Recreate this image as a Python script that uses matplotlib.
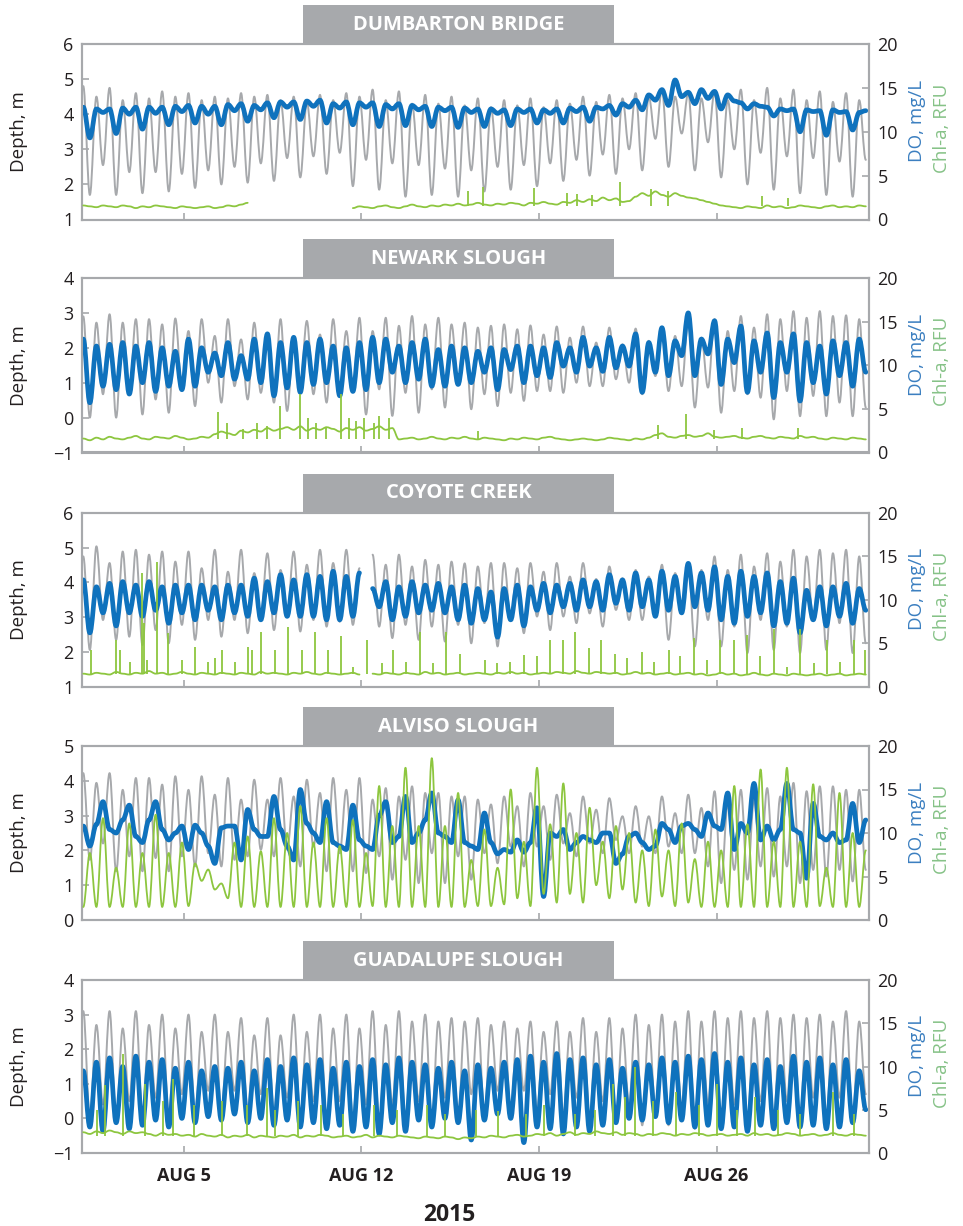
import numpy as np
import matplotlib
matplotlib.use("Agg")
import matplotlib.pyplot as plt
import matplotlib.dates as mdates
from matplotlib.patches import Rectangle, PathPatch
from matplotlib.path import Path

plt.rcParams['font.family'] = ['Open Sans', 'DejaVu Sans']

GRAY = '#a7a9ac'
BLUE = '#0f72bd'
GREEN = '#8dc63f'
TEXT = '#231f20'
nan = np.nan

# sample times: one value per tidal high/low (about every 6.2 h)
times = np.datetime64('2015-08-01T01:12') + np.arange(120) * np.timedelta64(373, 'm')
start = np.datetime64('2015-08-01')

stations = ['DUMBARTON BRIDGE', 'NEWARK SLOUGH', 'COYOTE CREEK',
            'ALVISO SLOUGH', 'GUADALUPE SLOUGH']
tick_dates = ['2015-08-05', '2015-08-12', '2015-08-19', '2015-08-26']
tick_labels = ['AUG 5', 'AUG 12', 'AUG 19', 'AUG 26']

# ---------------- Dumbarton Bridge ----------------
hi1 = [4.8, 4.5, 4.75, 4.4, 4.6, 4.45, 4.65, 4.5, 4.6, 4.4,
       4.5, 4.45, 4.6, 4.5, 4.55, 4.4, 4.5, 4.35, 4.55, 4.4,
       4.6, 4.5, 4.7, 4.4, 4.65, 4.3, 4.55, 4.3, 4.5, 4.25,
       4.45, 4.2, 4.4, 4.25, 4.45, 4.2, 4.4, 4.3, 4.5, 4.35,
       4.55, 4.45, 4.6, 4.5, 4.7, 4.5, 4.6, 4.45, 4.65, 4.4,
       4.7, 4.4, 4.75, 4.45, 4.7, 4.4, 4.65, 4.35, 4.6, 4.4]
lo1 = [1.7, 2.55, 1.7, 2.35, 1.75, 2.35, 1.8, 2.3, 1.9, 2.4,
       2.0, 2.5, 2.05, 2.6, 2.1, 2.75, 2.2, 2.8, 2.3, 2.9,
       1.95, 2.7, 1.85, 2.6, 1.65, 2.55, 1.7, 2.45, 1.65, 2.4,
       1.8, 2.5, 1.85, 2.55, 1.95, 2.6, 2.1, 2.7, 2.25, 2.85,
       2.3, 3.0, 2.4, 3.3, 2.5, 3.45, 2.4, 3.2, 2.2, 3.0,
       2.0, 2.9, 1.85, 2.8, 1.75, 2.75, 1.7, 2.65, 1.65, 2.7]
do1 = [12.8, 9.3, 12.6, 12.2, 12.6, 9.8, 12.7, 12.0, 12.8, 10.3, 12.8, 12.1,
       12.8, 10.8, 12.9, 12.3, 13.0, 11.0, 12.9, 12.0, 12.9, 10.8, 13.1, 12.4,
       13.2, 11.2, 13.0, 12.5, 13.3, 11.6, 13.4, 12.8, 13.4, 11.4, 13.5, 12.9,
       13.6, 11.0, 13.2, 12.7, 13.4, 10.8, 13.3, 12.8, 13.3, 10.6, 13.1, 12.6,
       13.2, 10.7, 13.0, 12.5, 12.9, 10.6, 12.8, 12.4, 12.8, 10.5, 12.7, 12.2,
       12.6, 10.6, 12.6, 12.1, 12.5, 10.7, 12.6, 12.2, 12.6, 11.0, 12.5, 12.1,
       12.6, 11.0, 12.7, 12.3, 12.8, 11.2, 12.8, 12.6, 13.0, 11.9, 13.2, 12.8,
       13.6, 12.5, 14.2, 13.6, 14.8, 13.0, 15.9, 14.0, 14.5, 13.2, 14.8, 13.8,
       14.6, 12.6, 14.2, 13.5, 13.3, 12.6, 13.2, 12.9, 12.8, 11.8, 12.6, 12.4,
       12.6, 10.0, 12.5, 12.3, 12.4, 9.6, 12.5, 12.2, 12.3, 10.2, 12.2, 12.4]
chl1 = ([1.6, 1.5, 1.4, 1.6, 1.5, 1.4, 1.6, 1.5, 1.3, 1.5,
         1.4, 1.6, 1.5, 1.4, 1.3, 1.5, 1.4, 1.3, 1.4, 1.5,
         1.3, 1.4, 1.6, 1.5, 1.7, 1.9] + [nan] * 15 +
        [1.3, 1.5, 1.4, 1.3, 1.5, 1.6, 1.4, 1.3, 1.5, 1.7,
         1.5, 1.4, 1.6, 1.5, 1.7, 1.6, 1.8, 1.6, 1.7, 1.9,
         1.7, 1.6, 1.8, 1.7, 1.9, 1.8, 1.6, 1.9, 1.8, 2.0,
         1.8, 1.7, 2.0, 1.9, 2.2, 2.0, 2.3, 2.1, 2.5, 2.2,
         2.4, 2.0, 2.1, 2.6, 3.0, 2.7, 3.2, 2.8, 2.6, 3.0,
         2.7, 2.5, 2.4, 2.2, 2.0, 1.8, 1.6, 1.5, 1.4, 1.3,
         1.5, 1.4, 1.3, 1.6, 1.4, 1.5, 1.3, 1.4, 1.6, 1.5,
         1.4, 1.3, 1.5, 1.6, 1.4, 1.5, 1.4, 1.6, 1.5])
spk_day1 = [15.2, 15.8, 17.8, 19.1, 19.5, 20.1, 21.2, 22.4, 23.1, 26.8, 27.8]
spk_top1 = [3.3, 3.7, 3.6, 3.0, 2.9, 2.8, 4.3, 3.5, 3.3, 2.7, 2.5]

# ---------------- Newark Slough ----------------
hi2 = [2.9, 2.72, 2.96, 2.72, 2.82, 2.82, 2.67, 2.84, 2.48, 2.82,
       2.34, 2.82, 2.24, 2.72, 2.2, 2.82, 2.29, 2.77, 2.38, 2.82,
       2.48, 2.86, 2.48, 2.86, 2.63, 2.91, 2.67, 2.86, 2.67, 2.72,
       2.58, 2.63, 2.67, 2.53, 2.64, 2.38, 2.61, 2.29, 2.61, 2.15,
       2.58, 2.1, 2.55, 2.2, 2.53, 2.34, 2.82, 2.29, 2.82, 2.48,
       2.91, 2.58, 2.96, 2.82, 3.05, 2.86, 3.05, 2.91, 2.93, 2.82]
lo2 = [0.0, 0.67, 0.0, 0.67, 0.09, 0.52, 0.14, 0.81, 0.33, 1.0,
       0.43, 0.9, 0.52, 0.71, 0.43, 0.19, 0.9, 0.67, 0.43, 0.76,
       0.76, 0.09, 0.81, 0.05, 0.71, 0.14, 0.81, 0.29, 0.95, 0.24,
       0.67, 0.33, 0.71, 0.48, 0.76, 0.76, 0.71, 1.0, 0.9, 0.9,
       1.1, 1.0, 0.67, 1.19, 0.76, 0.9, 0.29, 0.86, 0.14, 0.76,
       0.67, 0.57, -0.05, 0.76, 0.04, 0.62, 0.04, 0.43, 0.04, 0.29]
do2 = [13.0, 5.7, 12.2, 7.6, 12.4, 7.2, 12.6, 6.7, 12.2, 8.0,
       12.6, 7.0, 12.0, 7.6, 11.6, 7.2, 13.0, 7.6, 12.0, 9.2,
       11.4, 8.8, 12.6, 8.4, 11.1, 8.4, 13.0, 8.0, 13.6, 6.5,
       12.6, 7.4, 13.2, 6.9, 12.6, 7.8, 13.0, 8.0, 12.2, 6.5,
       12.0, 7.0, 12.6, 7.2, 13.2, 8.0, 13.0, 9.2, 12.2, 8.0,
       12.6, 8.4, 13.0, 7.6, 11.8, 7.6, 12.2, 7.8, 12.0, 8.0,
       11.6, 9.2, 12.0, 7.2, 11.8, 9.5, 12.2, 8.0, 12.2, 8.8,
       12.0, 8.6, 12.6, 9.9, 12.0, 9.2, 13.2, 9.9, 12.0, 9.3,
       13.2, 9.7, 12.2, 9.9, 13.6, 6.9, 12.6, 9.2, 14.3, 8.8,
       12.8, 11.1, 16.0, 8.8, 13.0, 11.3, 15.1, 7.8, 13.0, 10.3,
       14.5, 6.9, 12.8, 9.2, 13.7, 6.3, 12.6, 9.2, 13.6, 5.9,
       12.6, 8.0, 12.2, 6.7, 12.8, 8.8, 12.6, 7.6, 13.0, 9.2]
chl2 = [1.6, 1.4, 1.7, 1.5, 1.8, 1.6, 1.5, 1.7, 1.9, 1.6,
        1.5, 1.8, 1.7, 1.6, 1.9, 1.7, 1.5, 1.6, 1.8, 1.7,
        2.1, 2.4, 2.2, 2.0, 2.5, 2.3, 2.6, 2.4, 2.8, 2.5,
        2.7, 2.9, 2.6, 3.0, 2.5, 2.8, 2.6, 2.9, 2.7, 2.4,
        2.8, 2.6, 2.9, 2.5, 2.7, 3.0, 2.6, 2.8,
        1.5, 1.6, 1.7, 1.5, 1.6, 1.8, 1.6, 1.5, 1.7, 1.6,
        1.8, 1.6, 1.5, 1.7, 1.6, 1.5, 1.4, 1.6, 1.5, 1.7,
        1.6, 1.5, 1.7, 1.8, 1.6, 1.5, 1.4, 1.5, 1.6, 1.5,
        1.4, 1.5, 1.7, 1.6, 1.5, 1.4, 1.6, 1.5, 1.7, 2.0,
        2.2, 1.8, 1.7, 1.9, 2.0, 1.8, 1.9, 2.2, 1.8, 1.7,
        1.8, 1.9, 1.7, 1.6, 1.8, 1.9, 1.7, 1.6, 1.8, 1.7,
        1.6, 1.9, 1.7, 1.8, 1.6, 1.5, 1.7, 1.6, 1.5, 1.7, 1.6, 1.5]
spk_day2 = [5.37, 5.7, 6.35, 6.9, 7.3, 7.8, 8.6, 8.9, 9.2, 9.6,
            10.2, 10.5, 10.8, 11.1, 11.5, 11.7, 12.1, 15.6, 22.7, 23.8,
            24.9, 26.0, 28.2]
spk_top2 = [4.6, 3.4, 2.7, 3.4, 3.0, 5.3, 6.7, 4.0, 3.4, 2.8,
            6.7, 4.0, 3.6, 4.0, 3.4, 4.2, 4.0, 2.5, 3.2, 4.4,
            2.6, 2.8, 2.8]

# ---------------- Coyote Creek ----------------
hi3 = [4.75, 5.04, 4.56, 4.89, 4.94, 4.8, 4.89, 4.6, 4.89, 4.41,
       4.94, 4.31, 4.94, 4.27, 4.84, 4.36, 4.89, 4.51, 4.94, 4.56,
       4.94, 4.41, 4.8, 4.51, 4.8, 4.46, 4.65, 4.51, 4.6, 4.55,
       4.46, 4.56, 4.56, 4.41, 4.56, 4.31, 4.56, 4.17, 4.56, 4.1,
       4.46, 4.12, 4.36, 4.17, 4.51, 4.27, 4.56, 4.36, 4.75, 4.36,
       4.8, 4.46, 4.84, 4.6, 4.94, 4.75, 4.94, 4.84, 4.94, 4.75]
lo3 = [2.06, 2.92, 2.35, 2.44, 2.2, 2.63, 2.25, 2.78, 2.35, 2.92,
       2.44, 2.92, 2.54, 3.02, 2.63, 3.02, 2.59, 2.92, 2.73, 2.87,
       2.78, nan, 2.73, 2.4, 2.78, 2.35, 2.73, 2.3, 2.78, 2.25,
       2.83, 2.16, 2.92, 2.54, 3.02, 2.63, 3.02, 2.83, 3.11, 2.73,
       3.21, 2.92, 2.92, 3.02, 2.35, 3.21, 2.16, 2.92, 2.16, 2.73,
       1.97, 2.92, 2.06, 2.73, 1.97, 2.92, 2.06, 2.83, 1.97, 2.25]
do3 = [12.3, 6.2, 11.5, 8.5, 11.9, 7.0, 12.1, 8.5, 11.7, 8.1,
       12.1, 8.8, 11.5, 7.3, 11.7, 8.5, 11.7, 7.7, 11.7, 8.8,
       11.5, 7.7, 11.7, 8.5, 11.7, 8.1, 12.5, 7.7, 12.1, 8.5,
       12.9, 8.1, 12.3, 8.1, 12.9, 8.1, 12.7, 7.7, 13.3, 7.7,
       12.7, 8.1, 13.1, nan, 11.3, 9.2, 12.1, 7.7, 11.5, 8.1,
       12.1, 8.5, 11.7, 8.8, 11.9, 8.5, 11.5, 7.7, 11.7, 7.3,
       11.3, 7.7, 10.9, 5.7, 11.3, 7.7, 11.7, 7.0, 11.5, 8.8,
       11.9, 8.5, 11.7, 9.2, 11.9, 8.8, 12.3, 9.2, 12.1, 8.8,
       12.9, 9.6, 12.3, 8.8, 13.1, 9.2, 12.3, 8.1, 13.3, 8.8,
       12.7, 8.5, 14.2, 9.2, 13.1, 8.8, 13.8, 7.7, 12.7, 7.3,
       13.3, 8.1, 12.7, 8.5, 13.1, 7.0, 12.1, 7.3, 12.5, 6.2,
       11.1, 7.7, 11.5, 7.0, 11.5, 8.1, 11.9, 7.3, 11.3, 8.8]
chl3 = [1.5, 1.4, 1.6, 1.5, 1.4, 1.7, 1.5, 1.4, 1.6, 1.5,
        1.8, 1.5, 1.6, 1.4, 1.5, 1.7, 1.5, 1.4, 1.6, 1.5,
        1.4, 1.6, 1.5, 1.4, 1.6, 1.5, 1.4, 1.7, 1.5, 1.6,
        1.5, 1.4, 1.6, 1.5, 1.7, 1.5, 1.4, 1.6, 1.5, 1.4,
        1.5, 1.6, 1.4, nan, 1.5, 1.4, 1.6, 1.5, 1.4, 1.6,
        1.5, 1.4, 1.7, 1.5, 1.6, 1.4, 1.5, 1.6, 1.4, 1.5,
        1.6, 1.5, 1.4, 1.6, 1.5, 1.7, 1.5, 1.6, 1.4, 1.5,
        1.6, 1.5, 1.7, 1.6, 1.5, 1.8, 1.6, 1.5, 1.7, 1.6,
        1.5, 1.6, 1.4, 1.5, 1.7, 1.5, 1.6, 1.4, 1.5, 1.6,
        1.4, 1.5, 1.6, 1.4, 1.5, 1.3, 1.4, 1.6, 1.4, 1.5,
        1.3, 1.4, 1.6, 1.4, 1.3, 1.5, 1.4, 1.3, 1.5, 1.4,
        1.3, 1.4, 1.5, 1.3, 1.4, 1.5, 1.3, 1.4, 1.5, 1.4]
spk_day3 = [0.34, 1.34, 1.5, 1.89, 2.35, 2.44, 2.55, 2.94, 3.4, 3.92,
            4.45, 4.97, 5.24, 5.5, 6.02, 6.55, 6.68, 7.07, 7.6, 8.12,
            8.65, 9.17, 9.7, 10.22, 10.68, 11.23, 11.8, 12.26, 12.78, 13.31,
            13.83, 14.33, 14.88, 15.89, 16.35, 16.87, 17.4, 17.93, 18.43, 18.95,
            19.43, 19.96, 20.45, 21.01, 21.47, 22.06, 22.52, 23.11, 23.57, 24.09,
            24.62, 25.15, 25.67, 26.2, 26.72, 27.24, 27.77, 28.29, 28.82, 29.34,
            29.87, 30.39, 30.85]
spk_top3 = [4.2, 5.4, 4.2, 2.9, 13.1, 7.3, 3.1, 14.4, 6.2, 3.1,
            4.6, 2.9, 3.3, 4.2, 2.9, 4.6, 4.2, 6.3, 4.2, 6.9,
            4.2, 6.3, 4.2, 5.8, 2.3, 5.4, 2.7, 4.2, 2.9, 6.3,
            2.7, 6.3, 3.8, 3.1, 2.7, 2.9, 3.7, 3.5, 5.4, 5.4,
            6.3, 4.4, 5.4, 3.8, 3.3, 4.0, 2.9, 4.2, 3.5, 5.6,
            3.1, 5.4, 5.4, 6.0, 3.5, 6.7, 2.3, 6.7, 2.7, 5.4,
            2.9, 5.4, 4.2]

# ---------------- Alviso Slough ----------------
hi4 = [4.22, 3.94, 4.22, 3.74, 4.08, 4.08, 3.89, 4.13, 3.74, 4.13,
       3.6, 4.08, 3.46, 4.03, 3.46, 4.08, 3.55, 4.03, 3.65, 4.08,
       3.74, 4.08, 3.46, 3.79, 3.55, 3.84, 3.65, 3.65, 3.55, 3.55,
       3.46, 3.32, 3.55, 3.27, 3.65, 3.27, 3.6, 3.07, 3.55, 3.17,
       3.5, 2.98, 3.27, 2.98, 3.55, 3.07, 3.6, 3.22, 3.7, 3.32,
       3.74, 3.46, 3.79, 3.55, 3.94, 3.7, 3.84, 3.84, 3.74, 3.74]
lo4 = [1.73, 2.2, 1.4, 1.83, 1.4, 1.78, 1.4, 1.83, 1.54, 1.92,
       1.54, 1.73, 1.83, 2.02, 1.83, 2.02, 1.54, 2.11, 1.4, 1.92,
       1.4, 1.35, 1.83, 1.16, 1.73, 1.06, 1.92, 1.06, 1.83, 1.16,
       1.92, 1.63, 2.11, 1.54, 2.11, 1.73, 2.2, 1.83, 2.2, 1.92,
       2.3, 1.92, 2.11, 1.92, 2.11, 1.92, 1.92, 1.54, 1.06, 1.44,
       1.16, 1.54, 1.25, 1.54, 1.06, 1.44, 1.25, 1.44, 1.11, 1.44]
do4 = [10.8, 8.5, 11.0, 13.6, 10.4, 10.0, 11.5, 13.2, 9.6, 8.9,
       11.5, 13.6, 10.4, 9.2, 10.0, 10.8, 8.1, 10.9, 10.0, 8.5,
       6.5, 10.6, 10.8, 10.8, 6.9, 12.7, 10.4, 9.6, 9.6, 14.2,
       10.4, 8.5, 6.9, 15.0, 11.1, 10.0, 8.9, 13.6, 8.9, 8.5,
       8.1, 13.2, 9.2, 8.5, 8.1, 12.0, 13.6, 8.9, 9.6, 14.2,
       8.9, 10.0, 11.5, 14.6, 10.0, 9.6, 8.9, 13.8, 8.9, 8.5,
       8.1, 12.3, 8.9, 7.6, 8.1, 7.8, 9.2, 7.8, 8.9, 12.9,
       2.7, 10.0, 9.6, 10.4, 8.1, 8.9, 9.6, 9.2, 8.9, 10.0,
       10.0, 6.5, 7.6, 9.6, 10.0, 8.9, 8.1, 8.5, 11.1, 10.4,
       8.9, 10.8, 11.1, 10.4, 9.6, 12.3, 10.8, 10.4, 14.6, 8.1,
       11.1, 10.0, 15.7, 9.2, 10.8, 9.2, 10.4, 15.7, 10.4, 10.0,
       4.8, 13.4, 9.6, 9.2, 10.0, 8.9, 9.2, 13.4, 8.9, 11.5]
chl4 = [1.5, 7.7, 1.5, 11.7, 1.5, 6.0, 1.5, 11.1, 1.5, 7.7,
        1.5, 12.1, 1.5, 7.7, 1.5, 8.9, 1.6, 6.5, 4.5, 5.8,
        3.5, 4.2, 2.5, 8.9, 1.5, 9.6, 1.5, 7.9, 1.5, 11.7,
        1.5, 10.0, 1.5, 13.1, 1.5, 8.9, 1.5, 11.7, 1.5, 8.5,
        1.5, 11.5, 1.5, 7.7, 1.6, 15.4, 1.5, 10.8, 1.5, 17.5,
        1.5, 10.8, 1.5, 18.6, 1.5, 10.8, 1.5, 14.6, 1.5, 6.9,
        1.6, 10.4, 1.6, 6.0, 1.8, 15.0, 2.5, 9.0, 1.6, 17.5,
        3.0, 11.0, 2.0, 15.7, 3.0, 10.0, 2.0, 12.9, 4.0, 9.0,
        2.5, 10.8, 3.5, 10.0, 2.0, 8.0, 1.6, 10.4, 2.7, 8.0,
        1.6, 11.1, 2.0, 7.0, 1.5, 9.0, 1.5, 8.0, 1.5, 15.4,
        1.5, 11.0, 1.5, 17.3, 1.5, 9.0, 1.5, 17.5, 1.5, 9.0,
        1.5, 15.6, 1.6, 6.0, 1.5, 14.6, 1.5, 10.0, 1.5, 8.0]

# ---------------- Guadalupe Slough ----------------
hi5 = [3.1, 2.7, 3.1, 2.6, 3.1, 2.7, 3.0, 2.6, 3.0, 2.5,
       3.0, 2.5, 2.9, 2.4, 2.9, 2.4, 3.0, 2.5, 3.0, 2.6,
       3.0, 2.6, 3.1, 2.7, 3.1, 2.8, 3.0, 2.8, 2.9, 2.8,
       2.9, 2.7, 2.8, 2.6, 2.8, 2.5, 2.8, 2.5, 2.9, 2.5,
       2.9, 2.6, 3.0, 2.7, 3.0, 2.8, 3.1, 2.8, 3.1, 2.9,
       3.1, 2.9, 3.1, 2.9, 3.0, 2.9, 3.0, 2.8, 3.1, 2.8]
lo5 = [0.0, 0.4, -0.1, 0.5, 0.0, 0.6, 0.1, 0.7, 0.1, 0.8,
       0.2, 0.8, 0.2, 0.7, 0.1, 0.6, 0.0, 0.5, -0.1, 0.5,
       -0.1, 0.4, -0.2, 0.4, -0.2, 0.5, -0.1, 0.6, 0.0, 0.7,
       0.1, 0.8, 0.2, 0.8, 0.2, 0.7, 0.1, 0.6, 0.0, 0.5,
       -0.1, 0.4, -0.2, 0.3, -0.2, 0.3, -0.3, 0.4, -0.2, 0.4,
       -0.2, 0.5, -0.1, 0.5, -0.1, 0.6, 0.0, 0.6, 0.0, 0.7]
do5 = [9.5, 3.0, 10.5, 2.5, 11.0, 3.5, 10.0, 2.8, 11.2, 3.2,
       10.5, 3.8, 10.8, 3.0, 9.8, 4.0, 10.5, 3.5, 9.5, 4.2,
       10.0, 3.8, 9.8, 4.5, 10.5, 3.5, 9.5, 4.0, 10.8, 3.2,
       10.0, 3.8, 11.0, 3.0, 10.2, 3.5, 10.8, 2.8, 9.8, 3.2,
       10.5, 2.5, 10.0, 3.0, 10.8, 2.2, 10.2, 3.5, 11.0, 2.5,
       10.5, 3.8, 10.2, 3.0, 9.8, 4.0, 10.5, 3.5, 9.5, 1.5,
       10.2, 3.8, 9.8, 4.5, 10.5, 4.0, 10.8, 1.2, 11.2, 3.0,
       10.5, 2.8, 11.5, 2.2, 10.8, 3.0, 11.0, 2.5, 10.2, 3.2,
       10.8, 3.5, 9.8, 4.0, 10.5, 3.8, 10.2, 4.2, 11.0, 3.5,
       10.5, 3.8, 11.2, 3.0, 10.8, 3.2, 11.5, 2.8, 10.5, 3.0,
       11.0, 2.5, 10.2, 3.2, 10.8, 2.8, 10.0, 3.5, 11.2, 3.0,
       10.5, 3.2, 11.0, 2.8, 10.2, 3.0, 10.8, 3.5, 9.5, 5.0]
chl5 = [2.4, 2.2, 2.5, 2.3, 2.6, 2.4, 2.2, 2.5, 2.3, 2.4,
        2.2, 2.0, 2.3, 2.1, 2.2, 2.0, 2.1, 1.9, 2.2, 2.0,
        1.9, 2.1, 1.8, 2.0, 1.9, 2.1, 1.8, 2.0, 1.9, 1.8,
        2.0, 1.9, 2.1, 1.8, 2.0, 1.9, 2.1, 2.0, 1.8, 1.9,
        2.0, 1.8, 1.9, 2.1, 1.8, 2.0, 1.9, 1.8, 2.0, 1.9,
        1.8, 1.7, 1.9, 1.8, 1.7, 1.9, 1.8, 1.6, 1.8, 1.7,
        1.9, 1.8, 2.0, 1.9, 1.8, 2.0, 2.1, 1.9, 2.0, 2.2,
        2.1, 2.3, 2.0, 2.2, 2.4, 2.1, 2.3, 2.2, 2.5, 2.3,
        2.2, 2.4, 2.1, 2.3, 2.2, 2.0, 2.2, 2.1, 2.3, 2.2,
        2.0, 2.2, 2.1, 2.3, 2.2, 2.0, 2.1, 2.2, 2.0, 2.1,
        2.2, 2.0, 2.3, 2.1, 2.2, 2.0, 2.1, 2.3, 2.2, 2.0,
        2.1, 2.2, 2.0, 2.1, 2.3, 2.1, 2.0, 2.2, 2.1, 2.0]
spk_day5 = [0.6, 0.9, 1.6, 2.5, 3.2, 3.6, 4.4, 5.5, 6.5, 7.3,
            7.6, 8.5, 9.4, 10.3, 11.5, 12.4, 13.6, 14.3, 15.5, 16.4,
            17.5, 18.2, 19.4, 20.2, 20.9, 21.4, 21.8, 22.5, 23.4, 24.3,
            25.0, 25.8, 26.5, 27.4, 28.3, 29.6, 30.4]
spk_top5 = [5.0, 7.9, 11.5, 8.0, 6.0, 8.5, 5.5, 6.0, 5.5, 7.5,
            5.0, 6.0, 5.5, 4.5, 5.5, 5.0, 5.5, 4.5, 5.0, 4.8,
            4.5, 5.5, 4.5, 5.0, 8.0, 6.5, 10.0, 6.0, 7.0, 5.5,
            8.0, 5.0, 6.5, 5.0, 4.5, 7.0, 4.5]

panels = [
    (hi1, lo1, do1, chl1, spk_day1, spk_top1, 1.5, (1, 6)),
    (hi2, lo2, do2, chl2, spk_day2, spk_top2, 1.6, (-1, 4)),
    (hi3, lo3, do3, chl3, spk_day3, spk_top3, 1.5, (1, 6)),
    (hi4, lo4, do4, chl4, [], [], 1.5, (0, 5)),
    (hi5, lo5, do5, chl5, spk_day5, spk_top5, 2.0, (-1, 4)),
]
# (top, bottom) of each plot area in pixels
panel_px = [(44, 219.5), (278, 452.5), (513, 686.7), (746, 920), (980, 1153)]


def smooth_line(ax, xs, ys, **kw):
    """Draw the samples joined by flat-tangent Bezier curves (tide-like)."""
    xs = np.asarray(xs, float)
    ys = np.asarray(ys, float)
    idx = np.flatnonzero(~np.isnan(ys))
    runs = np.split(idx, np.flatnonzero(np.diff(idx) > 1) + 1)
    for r in runs:
        if len(r) < 2:
            continue
        verts = [(xs[r[0]], ys[r[0]])]
        codes = [Path.MOVETO]
        for a, b in zip(r[:-1], r[1:]):
            d = xs[b] - xs[a]
            verts += [(xs[a] + 0.36 * d, ys[a]), (xs[b] - 0.36 * d, ys[b]),
                      (xs[b], ys[b])]
            codes += [Path.CURVE4] * 3
        ax.add_patch(PathPatch(Path(verts, codes), facecolor='none',
                               capstyle='round', joinstyle='round', **kw))


W, H = 963, 1226
fig = plt.figure(figsize=(W / 100, H / 100), dpi=100)
x = mdates.date2num(times)
x0 = mdates.date2num(start)

for i, (hi, lo, do, chl, sd, st, base, ylim) in enumerate(panels):
    top, bot = panel_px[i]
    ax = fig.add_axes([82 / W, 1 - bot / H, 787 / W, (bot - top) / H])

    depth = np.empty(len(hi) + len(lo))
    depth[0::2] = hi
    depth[1::2] = lo
    smooth_line(ax, x, depth, edgecolor=GRAY, lw=1.4, zorder=1)
    ax.set_ylim(*ylim)
    ax.set_yticks(np.arange(ylim[0], ylim[1] + 1))
    ax.set_yticklabels([str(v).replace('-', '\u2212') for v in range(ylim[0], ylim[1] + 1)])
    ax.set_xlim(x0, x0 + 31)
    ax.set_xticks(mdates.date2num(np.array(tick_dates, dtype='datetime64[D]')))
    if i == len(panels) - 1:
        ax.set_xticklabels(tick_labels, fontweight='bold', fontsize=14)
    else:
        ax.set_xticklabels([])
    ax.set_ylabel('Depth, m', fontsize=13.5, color=TEXT)
    ax.yaxis.set_label_coords(-(82 - 28) / 787, 0.5)

    ax2 = ax.twinx()
    smooth_line(ax2, x, do, edgecolor=BLUE, lw=3.4, zorder=2)
    smooth_line(ax2, x, chl, edgecolor=GREEN, lw=1.3, zorder=3)
    if len(sd):
        sx = x0 + np.array(sd)
        ax2.vlines(sx, base, st, color=GREEN, lw=1.3, zorder=3)
    ax2.set_ylim(0, 20)
    ax2.set_yticks([0, 5, 10, 15, 20])
    ax2.set_xlim(x0, x0 + 31)
    ax2.text((917 - 82) / 787, 0.56, 'DO, mg/L', rotation=90, color='#3b7fc0',
             fontsize=13.5, ha='center', va='center', transform=ax2.transAxes)
    ax2.text((942 - 82) / 787, 0.52, 'Chl-a, RFU', rotation=90, color='#86c287',
             fontsize=13.5, ha='center', va='center', transform=ax2.transAxes)

    for a in (ax, ax2):
        for s in a.spines.values():
            s.set_color(GRAY)
            s.set_linewidth(1.5)
        a.tick_params(axis='both', direction='in', length=5, width=1.2,
                      color=GRAY, labelcolor=TEXT, labelsize=13)
    ax.tick_params(axis='y', pad=6)
    ax.tick_params(axis='x', pad=10)
    ax2.tick_params(axis='y', pad=6)

    # station name box above the plot
    bx0 = (303 - 82) / 787
    bw = (614 - 303) / 787
    bh = 39 / (bot - top)
    ax.add_patch(Rectangle((bx0, 1.0), bw, bh, transform=ax.transAxes,
                           facecolor=GRAY, edgecolor='none', clip_on=False))
    ax.text(bx0 + bw / 2, 1.0 + bh / 2, stations[i], transform=ax.transAxes,
            ha='center', va='center', color='white', fontsize=14.5,
            fontweight='bold')

fig.text(449 / W, 1 - 1215 / H, '2015', ha='center', va='center',
         fontsize=16.5, fontweight='bold', color=TEXT)

fig.savefig('out.png', dpi=100)
